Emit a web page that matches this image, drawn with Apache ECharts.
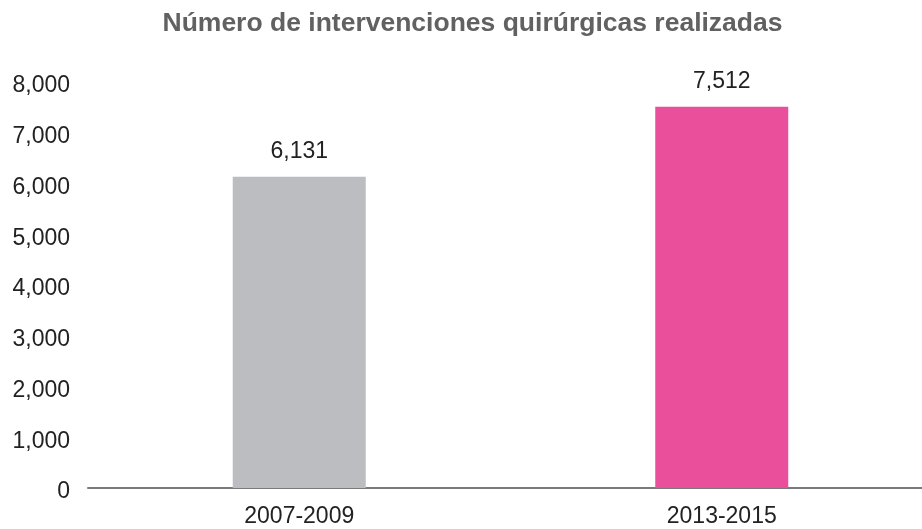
<!DOCTYPE html>
<html>
<head>
<meta charset="utf-8">
<script src="https://cdn.jsdelivr.net/npm/echarts@6/dist/echarts.min.js"></script>
<style>
  html, body { margin: 0; padding: 0; background: #fff; overflow: hidden; }
  #chart { width: 945px; height: 529px; }
</style>
</head>
<body>
<div id="chart"></div>
<script>
const title = 'Número de intervenciones quirúrgicas realizadas'
const categories = ['2007-2009', '2013-2015']
const values = [6131, 7512]
const barColors = ['#bcbdc1', '#ea4f9b']
const yTicks = [0, 1000, 2000, 3000, 4000, 5000, 6000, 7000, 8000]

const fmt = (v) => Number(v).toLocaleString('en-US')
const font = '"Liberation Sans", Arial, Helvetica, sans-serif'

// the chart is a bit wider than the window so the second category lands where it should
const chart = echarts.init(document.getElementById('chart'))
chart.setOption({
  animation: false,
  title: {
    text: title,
    left: 'center',
    top: 5,
    textStyle: { color: '#616161', fontSize: 26.5, fontWeight: 'bold', fontFamily: font },
  },
  grid: { left: 88, right: 12, top: 82, bottom: 41 },
  xAxis: {
    type: 'category',
    data: categories,
    axisLine: { lineStyle: { color: '#7a7a7a', width: 2 } },
    axisTick: { show: false },
    axisLabel: { color: '#222', fontSize: 23, fontFamily: font, margin: 17 },
  },
  yAxis: {
    type: 'value',
    min: yTicks[0],
    max: yTicks[yTicks.length - 1],
    interval: 1000,
    splitLine: { show: false },
    axisLine: { show: false },
    axisTick: { show: false },
    axisLabel: {
      color: '#222',
      fontSize: 23,
      fontFamily: font,
      margin: 18,
      verticalAlign: 'top',
      lineHeight: 8, // labels sit a few px below their tick in the original
      formatter: fmt,
    },
  },
  series: [
    {
      type: 'bar',
      barWidth: 133,
      data: values.map((v, i) => ({ value: v, itemStyle: { color: barColors[i] } })),
      label: {
        show: true,
        position: 'top',
        distance: 14,
        color: '#222',
        fontSize: 23,
        fontFamily: font,
        formatter: (p) => fmt(p.value),
      },
    },
  ],
})
</script>
</body>
</html>
